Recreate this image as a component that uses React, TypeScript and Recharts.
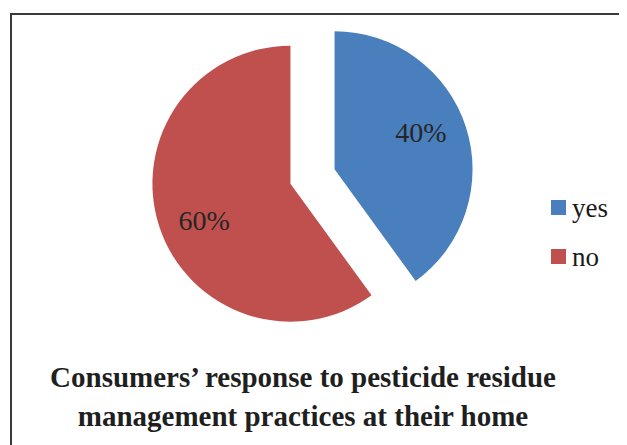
import { PieChart, Pie, Cell, Legend } from "recharts";

const answers = ["yes", "no"];
const shares = [40, 60];
const colors = ["#4A7FBE", "#C0504D"];
const titleLines = ["Consumers’ response to pesticide residue", "management practices at their home"];

const data = answers.map((name, i) => ({ name, value: shares[i] }));
const total = shares.reduce((a, b) => a + b, 0);

const W = 619;
const H = 437;
const CX = 299.5;
const CY = 163.5;
const R = 138;
const GAP = 23.2;
const RAD = Math.PI / 180;
const SERIF = "Liberation Serif";

// mid angle of each slice, clockwise from 12 o'clock
const midAngles = shares.map((v, i) => {
  const before = shares.slice(0, i).reduce((a, b) => a + b, 0);
  return ((before + v / 2) / total) * 360;
});

const makeLabel = (idx: number) => (props: any) => {
  const name = props.payload?.name ?? props.name;
  if (name !== answers[idx]) return null;
  const r = props.outerRadius * 0.68;
  const a = (props.midAngle + 5) * RAD;
  const x = props.cx + r * Math.cos(-a);
  const y = props.cy + r * Math.sin(-a);
  return (
    <text x={x} y={y} textAnchor="middle" dominantBaseline="central" fill="#262626" style={{ fontSize: 28, fontFamily: SERIF }}>
      {`${Math.round(props.percent * 100)}%`}
    </text>
  );
};

const renderLegend = () => (
  <div style={{ fontFamily: SERIF, fontSize: 27, color: "#1a1a1a" }}>
    {answers.map((a, i) => (
      <div key={a} style={{ display: "flex", alignItems: "center", height: 49 }}>
        <span style={{ width: 15, height: 15, background: colors[i], marginRight: 6, display: "inline-block" }} />
        <span style={{ position: "relative", top: 1 }}>{a}</span>
      </div>
    ))}
  </div>
);

export default function App() {
  return (
    <div style={{ width: W, height: H, overflow: "hidden", position: "relative" }}>
      <div
        style={{
          position: "absolute",
          left: 2,
          top: 5,
          width: 660,
          height: 480,
          border: "2px solid #3a3a3a",
          boxSizing: "border-box",
        }}
      />
      <div style={{ position: "absolute", left: 0, top: 0 }}>
        <PieChart width={W} height={H}>
          {answers.map((a, idx) => (
            <Pie
              key={a}
              data={data}
              dataKey="value"
              nameKey="name"
              cx={CX + GAP * Math.sin(midAngles[idx] * RAD)}
              cy={CY - GAP * Math.cos(midAngles[idx] * RAD)}
              outerRadius={R}
              startAngle={90}
              endAngle={-270}
              stroke="none"
              labelLine={false}
              label={makeLabel(idx)}
              legendType="none"
              isAnimationActive={false}
            >
              {data.map((d, i) => (
                <Cell key={d.name} fill={i === idx ? colors[i] : "transparent"} />
              ))}
            </Pie>
          ))}
          <Legend
            content={renderLegend}
            wrapperStyle={{ left: 543, top: 175, width: 80 }}
          />
        </PieChart>
      </div>
      <div
        style={{
          position: "absolute",
          left: 0,
          top: 350,
          width: 590,
          textAlign: "center",
          fontFamily: SERIF,
          fontWeight: "bold",
          fontSize: 29,
          lineHeight: "39px",
          color: "#1f1f1f",
          whiteSpace: "nowrap",
        }}
      >
        {titleLines.map((t) => (
          <div key={t}>{t}</div>
        ))}
      </div>
    </div>
  );
}
